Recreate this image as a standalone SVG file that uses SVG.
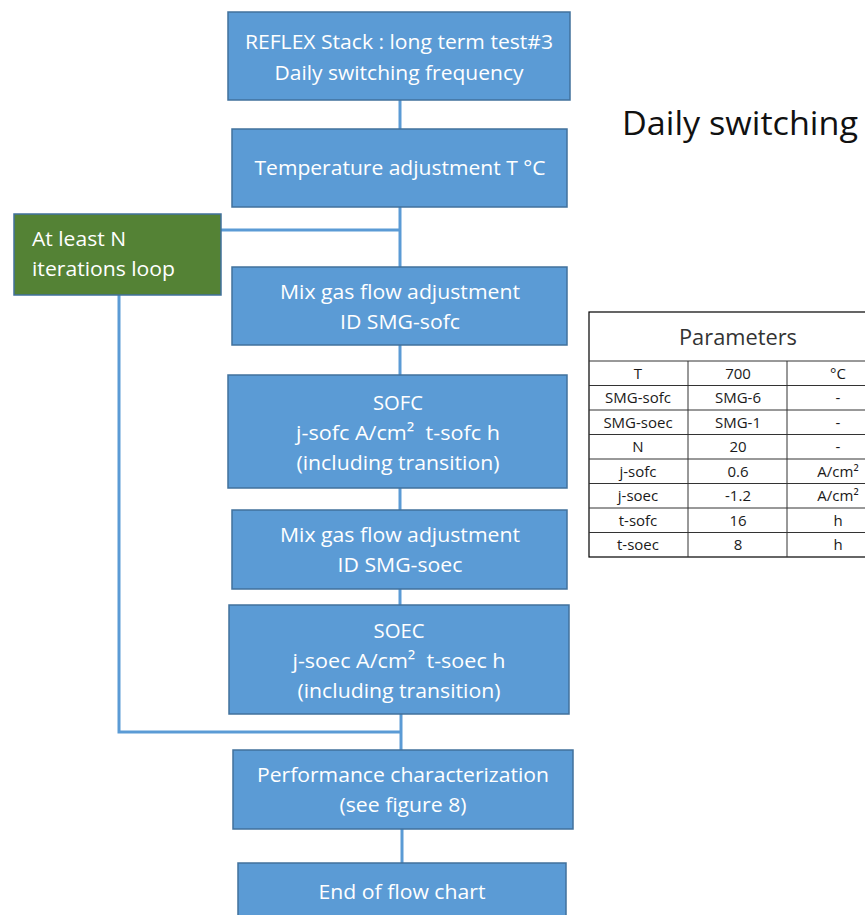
<svg xmlns="http://www.w3.org/2000/svg" width="865" height="915" viewBox="0 0 865 915">
<style>
.box{fill:#5B9BD5;stroke:#41719C;stroke-width:1.5}
.green{fill:#548235;stroke:#41719C;stroke-width:1.5}
.bt{font-family:"Open Sans","Liberation Sans",sans-serif;font-size:20px;fill:#fff;text-anchor:middle}
.gt{font-family:"Open Sans","Liberation Sans",sans-serif;font-size:20px;fill:#fff}
.conn{stroke:#5B9BD5;stroke-width:3;fill:none}
.tb{fill:#fff;stroke:#000;stroke-width:1.2}
.tl{stroke:#333;stroke-width:1}
.tt{font-family:"Open Sans","Liberation Sans",sans-serif;font-size:15px;fill:#1a1a1a;text-anchor:middle}
</style>
<rect width="865" height="915" fill="#fff"/>
<g id="connectors">
<line class="conn" x1="400" y1="100" x2="400" y2="129"/>
<line class="conn" x1="400" y1="207" x2="400" y2="267"/>
<line class="conn" x1="221" y1="230" x2="400" y2="230"/>
<line class="conn" x1="400" y1="345" x2="400" y2="375"/>
<line class="conn" x1="400" y1="488" x2="400" y2="510"/>
<line class="conn" x1="400" y1="589" x2="400" y2="605"/>
<line class="conn" x1="401" y1="714" x2="401" y2="750"/>
<polyline class="conn" points="119,295 119,732 401,732"/>
<line class="conn" x1="402" y1="829" x2="402" y2="863"/>
</g>
<g id="n1"><rect class="box" x="228" y="12" width="342" height="88"/>
<text class="bt" x="399" y="49" textLength="308" lengthAdjust="spacingAndGlyphs">REFLEX Stack : long term test#3</text>
<text class="bt" x="399" y="80" textLength="249" lengthAdjust="spacingAndGlyphs">Daily switching frequency</text></g>
<g id="n2"><rect class="box" x="232" y="129" width="335" height="78"/>
<text class="bt" x="400" y="175" textLength="291" lengthAdjust="spacingAndGlyphs">Temperature adjustment T °C</text></g>
<g id="loop"><rect class="green" x="14" y="214" width="207" height="81"/>
<text class="gt" x="32" y="246" textLength="94" lengthAdjust="spacingAndGlyphs">At least N</text>
<text class="gt" x="32" y="276" textLength="143" lengthAdjust="spacingAndGlyphs">iterations loop</text></g>
<g id="n3"><rect class="box" x="232" y="267" width="335" height="78"/>
<text class="bt" x="400" y="299" textLength="240" lengthAdjust="spacingAndGlyphs">Mix gas flow adjustment</text>
<text class="bt" x="400" y="329" textLength="120" lengthAdjust="spacingAndGlyphs">ID SMG-sofc</text></g>
<g id="n4"><rect class="box" x="228" y="375" width="339" height="113"/>
<text class="bt" x="398" y="410" textLength="50" lengthAdjust="spacingAndGlyphs">SOFC</text>
<text class="bt" x="398" y="440" textLength="204" lengthAdjust="spacingAndGlyphs">j-sofc A/cm²&#160; t-sofc h</text>
<text class="bt" x="398" y="470" textLength="203" lengthAdjust="spacingAndGlyphs">(including transition)</text></g>
<g id="n5"><rect class="box" x="232" y="510" width="335" height="79"/>
<text class="bt" x="400" y="542" textLength="240" lengthAdjust="spacingAndGlyphs">Mix gas flow adjustment</text>
<text class="bt" x="400" y="572" textLength="125" lengthAdjust="spacingAndGlyphs">ID SMG-soec</text></g>
<g id="n6"><rect class="box" x="229" y="605" width="340" height="109"/>
<text class="bt" x="399" y="638" textLength="51" lengthAdjust="spacingAndGlyphs">SOEC</text>
<text class="bt" x="399" y="668" textLength="213" lengthAdjust="spacingAndGlyphs">j-soec A/cm²&#160; t-soec h</text>
<text class="bt" x="399" y="698" textLength="203" lengthAdjust="spacingAndGlyphs">(including transition)</text></g>
<g id="n7"><rect class="box" x="233" y="750" width="340" height="79"/>
<text class="bt" x="403" y="782" textLength="292" lengthAdjust="spacingAndGlyphs">Performance characterization</text>
<text class="bt" x="403" y="812" textLength="127" lengthAdjust="spacingAndGlyphs">(see figure 8)</text></g>
<g id="n8"><rect class="box" x="238" y="863" width="328" height="62"/>
<text class="bt" x="402" y="899" textLength="167" lengthAdjust="spacingAndGlyphs">End of flow chart</text></g>
<g id="title"><text x="622" y="135" font-family="Open Sans, Liberation Sans, sans-serif" font-size="33" fill="#111" textLength="236" lengthAdjust="spacingAndGlyphs">Daily switching</text></g>
<g id="table">
<rect class="tb" x="589" y="312" width="300" height="245"/>
<line class="tl" x1="589" y1="361" x2="889" y2="361"/>
<line class="tl" x1="589" y1="385.5" x2="889" y2="385.5"/>
<line class="tl" x1="589" y1="410" x2="889" y2="410"/>
<line class="tl" x1="589" y1="434.5" x2="889" y2="434.5"/>
<line class="tl" x1="589" y1="459" x2="889" y2="459"/>
<line class="tl" x1="589" y1="483.5" x2="889" y2="483.5"/>
<line class="tl" x1="589" y1="508" x2="889" y2="508"/>
<line class="tl" x1="589" y1="532.5" x2="889" y2="532.5"/>
<line class="tl" x1="688" y1="361" x2="688" y2="557"/>
<line class="tl" x1="787" y1="361" x2="787" y2="557"/>
<text x="738" y="345" font-family="Open Sans, Liberation Sans, sans-serif" font-size="21" fill="#333" text-anchor="middle" textLength="118" lengthAdjust="spacingAndGlyphs">Parameters</text>
<text class="tt" x="638" y="379">T</text><text class="tt" x="738" y="379">700</text><text class="tt" x="838" y="379">°C</text>
<text class="tt" x="638" y="403">SMG-sofc</text><text class="tt" x="738" y="403">SMG-6</text><text class="tt" x="838" y="403">-</text>
<text class="tt" x="638" y="428">SMG-soec</text><text class="tt" x="738" y="428">SMG-1</text><text class="tt" x="838" y="428">-</text>
<text class="tt" x="638" y="452">N</text><text class="tt" x="738" y="452">20</text><text class="tt" x="838" y="452">-</text>
<text class="tt" x="638" y="477">j-sofc</text><text class="tt" x="738" y="477">0.6</text><text class="tt" x="838" y="477">A/cm²</text>
<text class="tt" x="638" y="501">j-soec</text><text class="tt" x="738" y="501">-1.2</text><text class="tt" x="838" y="501">A/cm²</text>
<text class="tt" x="638" y="526">t-sofc</text><text class="tt" x="738" y="526">16</text><text class="tt" x="838" y="526">h</text>
<text class="tt" x="638" y="550">t-soec</text><text class="tt" x="738" y="550">8</text><text class="tt" x="838" y="550">h</text>
</g>
</svg>
